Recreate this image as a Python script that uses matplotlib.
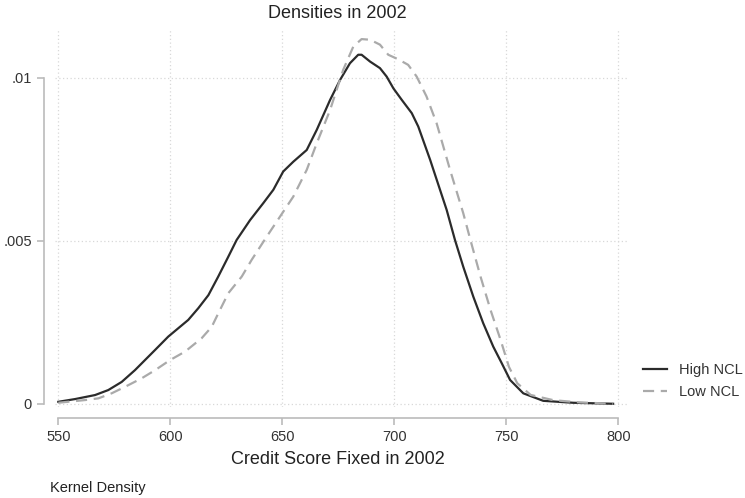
import numpy as np
import matplotlib
matplotlib.use("Agg")
import matplotlib.pyplot as plt

plt.rcParams['font.family'] = ['Liberation Sans', 'DejaVu Sans']

# High NCL kernel density
high_x = [550, 557.5, 566.4, 572.3, 578.3, 584.2, 588.7, 593.2, 599.1, 608.0, 612.5,
          617.0, 621.4, 625.9, 629.6, 635.6, 641.5, 646.0, 650.4, 654.9, 660.9, 665.4,
          671.3, 675.8, 680.2, 683.9, 685.4, 689.2, 693.6, 696.6, 699.6, 703.3, 707.8,
          710.7, 716.0, 723.4, 727.1, 730.8, 735.3, 739.7, 744.2, 748.0, 751.7, 757.6,
          766.5, 779.9, 797.7]
high_y = [0.00006, 0.000144, 0.000267, 0.00042, 0.00067, 0.00103, 0.00134, 0.00165,
          0.00206, 0.00257, 0.00293, 0.00333, 0.0039, 0.00451, 0.00502, 0.00563,
          0.00615, 0.00656, 0.00712, 0.00742, 0.00778, 0.0084, 0.00931, 0.00993,
          0.01044, 0.0107, 0.0107, 0.01049, 0.01029, 0.01003, 0.00967, 0.00932,
          0.00891, 0.0085, 0.00748, 0.00594, 0.00502, 0.0042, 0.00328, 0.00247,
          0.00175, 0.00124, 0.00073, 0.00032, 0.00009, 0.00003, 0.0]

# Low NCL kernel density
low_x = [550, 561.9, 567.9, 573.8, 579.8, 587.2, 593.2, 599.9, 606.6, 614.0, 618.5,
         621.4, 625.9, 631.9, 636.3, 643.0, 649.0, 654.9, 660.9, 665.4, 671.3, 677.2,
         681.7, 685.4, 689.2, 693.6, 697.3, 701.8, 706.2, 710.0, 714.4, 718.9, 724.9,
         730.8, 734.0, 738.5, 743.0, 747.5, 751.2, 754.9, 760.9, 771.0, 782.9, 797.7]
low_y = [0.00003, 0.000113, 0.000166, 0.00032, 0.00052, 0.00078, 0.00103, 0.00134,
         0.0016, 0.00201, 0.00236, 0.00277, 0.00339, 0.0039, 0.00441, 0.00512,
         0.00574, 0.00635, 0.00717, 0.00799, 0.009, 0.01024, 0.01095, 0.01118,
         0.01116, 0.01101, 0.0107, 0.01056, 0.01039, 0.01003, 0.00942, 0.0086,
         0.00717, 0.00584, 0.00502, 0.0039, 0.00287, 0.00195, 0.00113, 0.00063,
         0.00027, 0.00011, 0.00004, 0.0]

x_ticks = [550, 600, 650, 700, 750, 800]
y_ticks = [0, 0.005, 0.01]
y_labels = ['0', '.005', '.01']

fig = plt.figure(figsize=(7.45, 4.98), dpi=100)
ax = fig.add_axes([0.0738, 0.1827, 0.7705, 0.7591])

ax.plot(high_x, high_y, color='#2b2b2b', lw=1.6, label='High NCL')
ax.plot(low_x, low_y, color='#aaaaaa', lw=1.6, ls=(0, (5, 3)), label='Low NCL')

ax.set_xlim(548.5, 804.8)
ax.set_ylim(-0.0001, 0.01149)

ax.set_xticks(x_ticks)
ax.set_yticks(y_ticks)
ax.set_yticklabels(y_labels)
ax.grid(True, color='#d8d8d8', ls=(0, (1, 2)), lw=0.9)

for s in ['top', 'right']:
    ax.spines[s].set_visible(False)
ax.spines['left'].set_bounds(0, 0.01)
ax.spines['bottom'].set_bounds(550, 800)
ax.spines['left'].set_position(('outward', 8))
ax.spines['bottom'].set_position(('outward', 8))
for s in ['left', 'bottom']:
    ax.spines[s].set_color('#bbbbbb')
    ax.spines[s].set_linewidth(1.2)
ax.tick_params(colors='#bbbbbb', labelcolor='#333333', labelsize=10.5, length=5, width=1.2)

fig.text(0.4523, 0.972, 'Densities in 2002', fontsize=13, color='#222222',
         ha='center', va='center')
fig.text(0.4537, 0.0783, 'Credit Score Fixed in 2002', fontsize=13, color='#222222',
         ha='center', va='center')

ax.legend(loc='center left', bbox_to_anchor=(0.863, 0.234), bbox_transform=fig.transFigure,
          frameon=False, fontsize=10.5, handlelength=1.65, handletextpad=0.8,
          borderpad=0, borderaxespad=0, labelspacing=0.55, labelcolor='#333333')

fig.text(0.067, 0.020, 'Kernel Density', fontsize=10.5, color='#222222', va='center')

fig.savefig('out.png', dpi=100)
